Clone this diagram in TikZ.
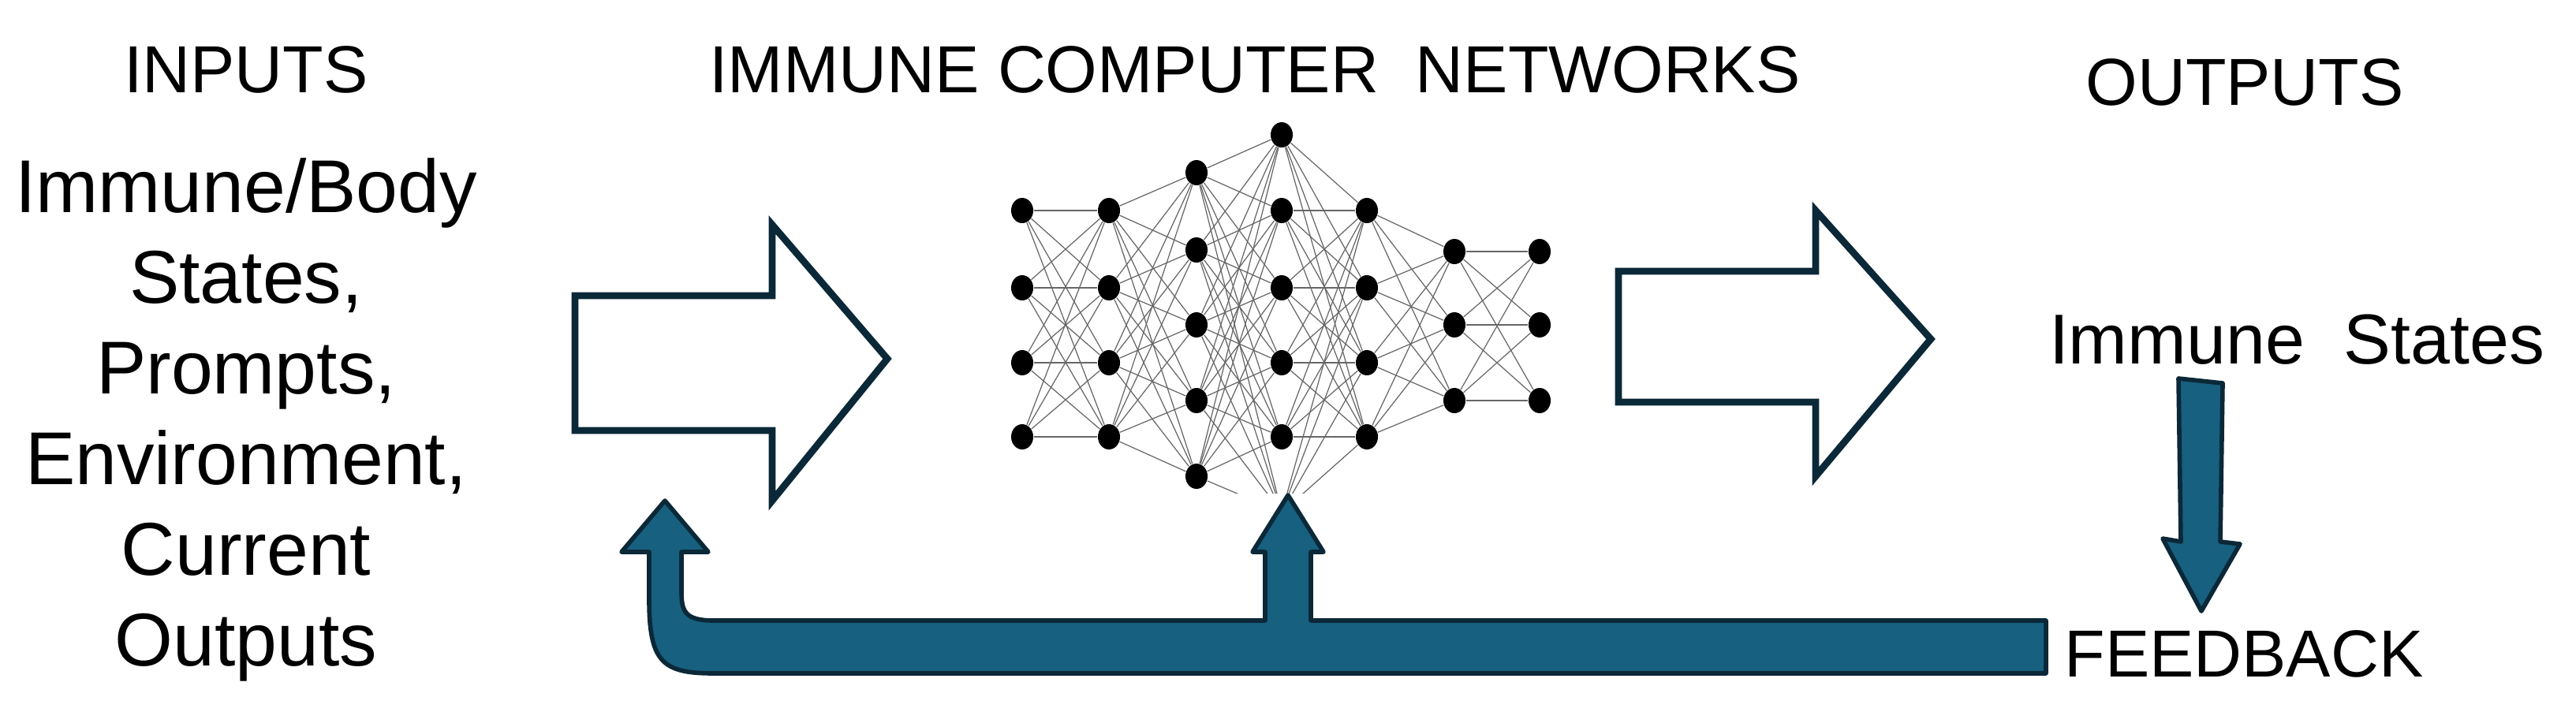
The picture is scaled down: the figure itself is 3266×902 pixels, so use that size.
\documentclass[tikz,border=0pt]{standalone}
\usepackage{fontspec}
\setmainfont{Liberation Sans}
\usetikzlibrary{shapes.geometric}
\begin{document}
\definecolor{teal}{HTML}{17607F}
\definecolor{navy}{HTML}{0B2838}
\begin{tikzpicture}[x=0.01cm,y=-0.01cm,
  title/.style={font=\fontsize{24}{29}\selectfont},
  list/.style={font=\fontsize{27}{32.7}\selectfont,align=center},
  neuron/.style={ellipse,fill=black,minimum width=0.28cm,minimum height=0.32cm,inner sep=0pt},
  hollow/.style={draw=navy,fill=white,line width=2.5pt,line join=miter},
  solid/.style={draw=navy,fill=teal,line width=1.6pt,line join=round},
  edge/.style={draw=black!60,line width=0.35pt}]
\useasboundingbox (0,0) rectangle (3266,902);
% texts
\node[title] (tin) at (312,88) {INPUTS};
\node[title] (tnet) at (1591,88) {IMMUNE COMPUTER\ \ NETWORKS};
\node[title] (tout) at (2846,104) {OUTPUTS};
\node[list] (inlist) at (312,532) {Immune/Body\\States,\\Prompts,\\Environment,\\Current\\Outputs};
\node[title,font=\fontsize{25.5}{30}\selectfont] (states) at (2912,431) {Immune\ \ States};
\node[title] (fb) at (2845,829) {FEEDBACK};
% hollow arrows
\path[hollow] (729,375) -- (979,375) -- (979,285) -- (1125,455) -- (979,635) -- (979,546) -- (729,546) -- cycle;
\path[hollow] (2052,344) -- (2302,344) -- (2302,267) -- (2448,430) -- (2302,604) -- (2302,510) -- (2052,510) -- cycle;
% feedback arrows
\path[solid] (2594,787) -- (1662,787) -- (1662,700) -- (1678,700) -- (1633,628) -- (1588,700) -- (1604,700) -- (1604,787)
  -- (905,787) .. controls (868,787) and (864,775) .. (864,750) -- (864,700) -- (898,700) -- (843,635) -- (788,700) -- (823,700)
  -- (823,760) .. controls (823,840) and (840,854) .. (905,854) -- (2594,854) -- cycle;
\path[solid] (2762,480) -- (2818,486) -- (2815,687) -- (2840,690) -- (2791,775) -- (2742,683) -- (2765,687) -- cycle;
% network nodes
\foreach \y [count=\r] in {267,365,460,554} {
  \node[neuron] (a\r) at (1296,\y) {};
  \node[neuron] (b\r) at (1406,\y) {};
  \node[neuron] (e\r) at (1733,\y) {};
}
\foreach \y [count=\r] in {219,317,412,508,604} \node[neuron] (c\r) at (1517,\y) {};
\foreach \y [count=\r] in {171,267,365,460,554} \node[neuron] (d\r) at (1625,\y) {};
\foreach \y [count=\r] in {319,412,508} {
  \node[neuron] (f\r) at (1844,\y) {};
  \node[neuron] (g\r) at (1952,\y) {};
}
\coordinate (hid) at (1625,650);
\foreach \i in {1,...,4} \foreach \j in {1,...,4} \draw[edge] (a\i) -- (b\j);
\foreach \i in {1,...,4} \foreach \j in {1,...,5} \draw[edge] (b\i) -- (c\j);
\foreach \i in {1,...,5} \foreach \j in {1,...,5} \draw[edge] (c\i) -- (d\j);
\foreach \i in {1,...,5} \foreach \j in {1,...,4} \draw[edge] (d\i) -- (e\j);
\foreach \i in {1,...,4} \foreach \j in {1,...,3} \draw[edge] (e\i) -- (f\j);
\foreach \i in {1,...,3} \foreach \j in {1,...,3} \draw[edge] (f\i) -- (g\j);
\begin{scope}
\clip (1200,100) rectangle (2000,625);
\foreach \i in {1,...,5} \draw[edge] (c\i) -- (hid);
\foreach \i in {1,...,4} \draw[edge] (e\i) -- (hid);
\end{scope}
\end{tikzpicture}
\end{document}
